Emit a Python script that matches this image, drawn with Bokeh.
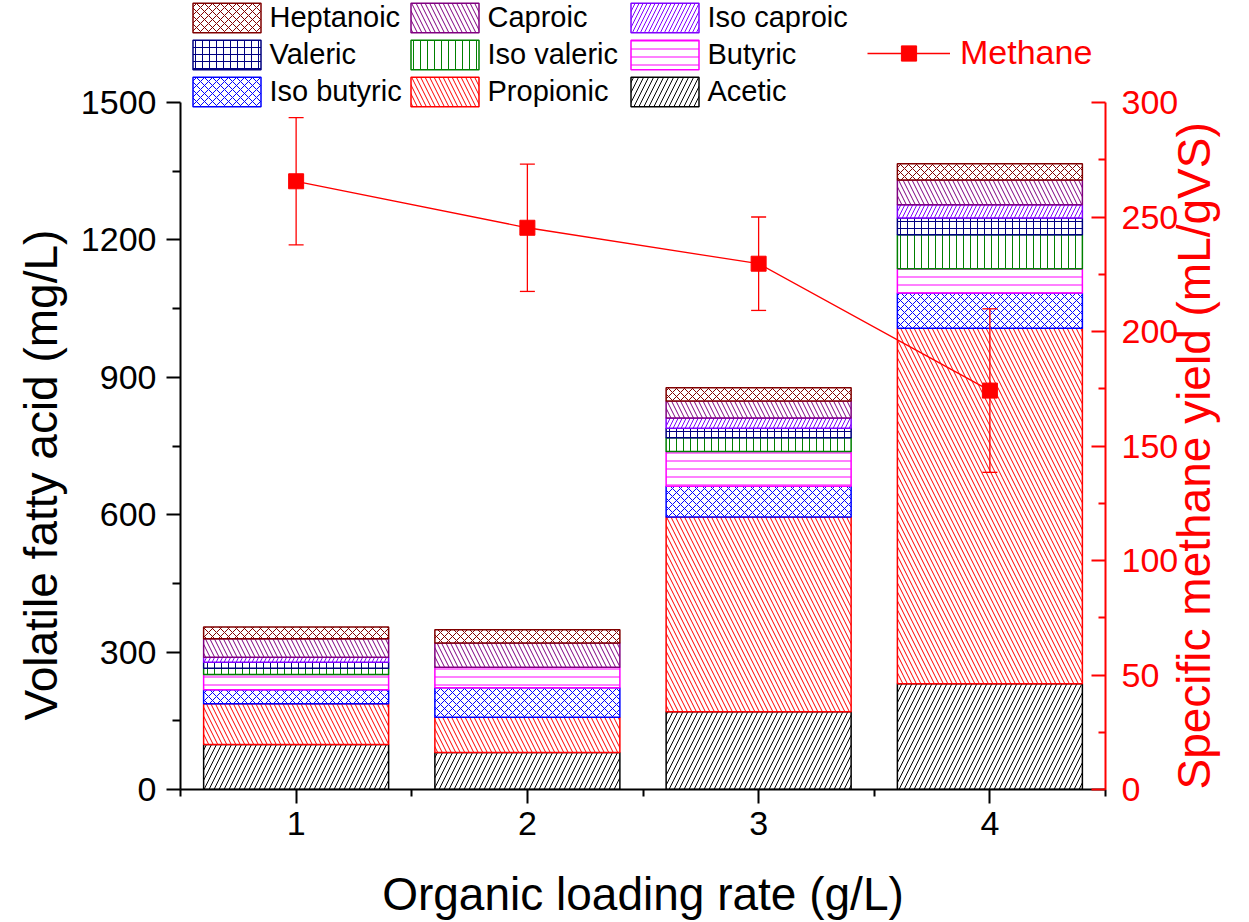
import math
from bokeh.plotting import figure
from bokeh.models import (Range1d, LinearAxis, FixedTicker, Legend, LegendItem,
                          Whisker, ColumnDataSource, TeeHead, Title)
from bokeh.embed import file_html
from bokeh.resources import INLINE

# ---------------- data ----------------
olr = [1, 2, 3, 4]
acetic = [98, 81, 170, 231]
propionic = [89, 77, 425, 776]
iso_butyric = [31, 64, 67, 77]
butyric = [33, 45, 76, 53]
iso_valeric = [14, 0, 30, 74]
valeric = [13, 0, 21, 37]
iso_caproic = [11, 0, 22, 29]
caproic = [40, 53, 37, 54]
heptanoic = [26, 29, 29, 35]

methane = [265.6, 245.3, 229.6, 174.2]
methane_err = [27.8, 27.8, 20.4, 35.7]

series_names = ["Acetic", "Propionic", "Iso butyric", "Butyric", "Iso valeric",
                "Valeric", "Iso caproic", "Caproic", "Heptanoic"]
x_ticks = [1, 2, 3, 4]
x_minor = [0.5, 1.5, 2.5, 3.5, 4.5]
vfa_ticks = [0, 300, 600, 900, 1200, 1500]
vfa_minor = [150, 450, 750, 1050, 1350]
ch4_ticks = [0, 50, 100, 150, 200, 250, 300]
ch4_minor = [25, 75, 125, 175, 225, 275]
VFA_MAX = 1500
CH4_MAX = 300

# ---------------- layout / styles ----------------
W, H = 1249, 922
FL, FR, FB = 180, 1110, 789       # frame left/right/bottom (px)
AXIS_TOP = 102                     # pixel row of the top of the axes
ext = FB / (FB - AXIS_TOP)         # range extension so legends sit inside the frame

FONT = "Liberation Sans"
colors = ["black", "#FF0000", "#0000FF", "#FF00FF", "#008000",
          "#000080", "#8000FF", "#800080", "#800000"]
patterns = ["/", "\\", "x", "-", "|", "+", "/", "\\", "x"]
scales = [10, 9, 8, 8, 7, 7, 8, 9, 8]

src = ColumnDataSource(dict(x=olr, Acetic=acetic, Propionic=propionic,
                            **{"Iso butyric": iso_butyric}, Butyric=butyric,
                            **{"Iso valeric": iso_valeric}, Valeric=valeric,
                            **{"Iso caproic": iso_caproic}, Caproic=caproic,
                            Heptanoic=heptanoic))

p = figure(width=W, height=H, x_range=Range1d(0.5, 4.5), y_range=Range1d(0, VFA_MAX * ext),
           output_backend="svg", toolbar_location=None,
           min_border_left=FL, min_border_right=W - FR, min_border_top=0,
           min_border_bottom=H - FB)
p.extra_y_ranges = {"methane": Range1d(0, CH4_MAX * ext)}
p.outline_line_color = None
p.xgrid.visible = False
p.ygrid.visible = False
p.background_fill_color = "white"
p.border_fill_color = "white"

bars = p.vbar_stack(series_names, x="x", width=0.8, source=src,
                    fill_color="white", line_color=colors, line_width=1.5,
                    hatch_pattern=patterns, hatch_color=colors, hatch_scale=scales,
                    hatch_weight=1.0)

# methane series
msrc = ColumnDataSource(dict(x=olr, y=methane,
                             upper=[m + e for m, e in zip(methane, methane_err)],
                             lower=[m - e for m, e in zip(methane, methane_err)]))
mline = p.line("x", "y", source=msrc, y_range_name="methane", line_color="red", line_width=1.3)
mpts = p.scatter("x", "y", source=msrc, y_range_name="methane", marker="square", size=15,
                 fill_color="red", line_color="red")
wh = Whisker(base="x", upper="upper", lower="lower", source=msrc, y_range_name="methane",
             line_color="red", line_width=1.3, level="annotation",
             upper_head=TeeHead(size=15, line_color="red", line_width=1.3),
             lower_head=TeeHead(size=15, line_color="red", line_width=1.3))
p.add_layout(wh)

# ---------------- axes ----------------
xa = p.xaxis[0]
xa.ticker = FixedTicker(ticks=x_ticks, minor_ticks=x_minor)
xa.axis_label = "Organic loading rate (g/L)"
xa.axis_label_text_font = FONT
xa.axis_label_text_font_size = "46px"
xa.axis_label_text_font_style = "normal"
xa.axis_label_text_color = "black"
xa.axis_label_standoff = 30
xa.major_label_text_font = FONT
xa.major_label_text_font_size = "34px"
xa.major_label_text_color = "black"
xa.major_label_standoff = 8
xa.major_tick_in = 0
xa.major_tick_out = 14
xa.minor_tick_in = 0
xa.minor_tick_out = 7
xa.axis_line_width = 2
xa.major_tick_line_width = 2
xa.minor_tick_line_width = 2

ya = p.left[0]
ya.ticker = FixedTicker(ticks=vfa_ticks, minor_ticks=vfa_minor)
ya.bounds = (0, VFA_MAX)
ya.major_label_text_font = FONT
ya.major_label_text_font_size = "34px"
ya.major_label_text_color = "black"
ya.major_label_standoff = 10
ya.major_tick_in = 0
ya.major_tick_out = 14
ya.minor_tick_in = 0
ya.minor_tick_out = 8
ya.axis_line_width = 2
ya.major_tick_line_width = 2
ya.minor_tick_line_width = 2

# left axis title as a side-panel title, shifted along the axis
p.add_layout(Title(text="Volatile fatty acid (mg/L)", align="left", offset=69,
                   standoff=21, text_font=FONT, text_font_size="46px",
                   text_font_style="normal", text_color="black"), "left")

ra = LinearAxis(y_range_name="methane")
ra.ticker = FixedTicker(ticks=ch4_ticks, minor_ticks=ch4_minor)
ra.bounds = (0, CH4_MAX)
ra.axis_label = "Specific methane yield (mL/gVS)"
ra.axis_label_text_font = FONT
ra.axis_label_text_font_size = "46px"
ra.axis_label_text_font_style = "normal"
ra.axis_label_text_color = "red"
ra.axis_label_standoff = 13
props = ra.properties()
if "axis_label_orientation" in props and "axis_label_align" in props:
    ra.axis_label_orientation = math.pi / 2
    ra.axis_label_align = "start"
ra.major_label_text_font = FONT
ra.major_label_text_font_size = "34px"
ra.major_label_text_color = "red"
ra.major_label_standoff = 16
ra.major_tick_in = 14
ra.major_tick_out = 0
ra.minor_tick_in = 7
ra.minor_tick_out = 0
ra.axis_line_color = "red"
ra.major_tick_line_color = "red"
ra.minor_tick_line_color = "red"
ra.axis_line_width = 2
ra.major_tick_line_width = 2
ra.minor_tick_line_width = 2
p.add_layout(ra, "right")

# ---------------- legends ----------------
rmap = dict(zip(series_names, bars))
cols = [["Heptanoic", "Valeric", "Iso butyric"],
        ["Caproic", "Iso valeric", "Propionic"],
        ["Iso caproic", "Butyric", "Acetic"]]
xpos = [3.5, 221.5, 441.5]
for names, vx in zip(cols, xpos):
    lg = Legend(items=[LegendItem(label=n, renderers=[rmap[n]]) for n in names],
                location=(vx, 679), orientation="vertical",
                glyph_width=85, glyph_height=37, label_height=37,
                label_standoff=1, spacing=0, padding=0, margin=0,
                border_line_color=None, background_fill_alpha=0,
                label_text_font=FONT, label_text_font_size="29px",
                label_text_color="black")
    p.add_layout(lg, "center")

lgm = Legend(items=[LegendItem(label="Methane", renderers=[mline, mpts])],
             location=(687, 717), glyph_width=83, glyph_height=38, label_height=38,
             label_standoff=10, padding=0, margin=0, border_line_color=None,
             background_fill_alpha=0, label_text_font=FONT,
             label_text_font_size="34px", label_text_color="red")
p.add_layout(lgm, "center")

open("out.html", "w").write(file_html(p, INLINE))
